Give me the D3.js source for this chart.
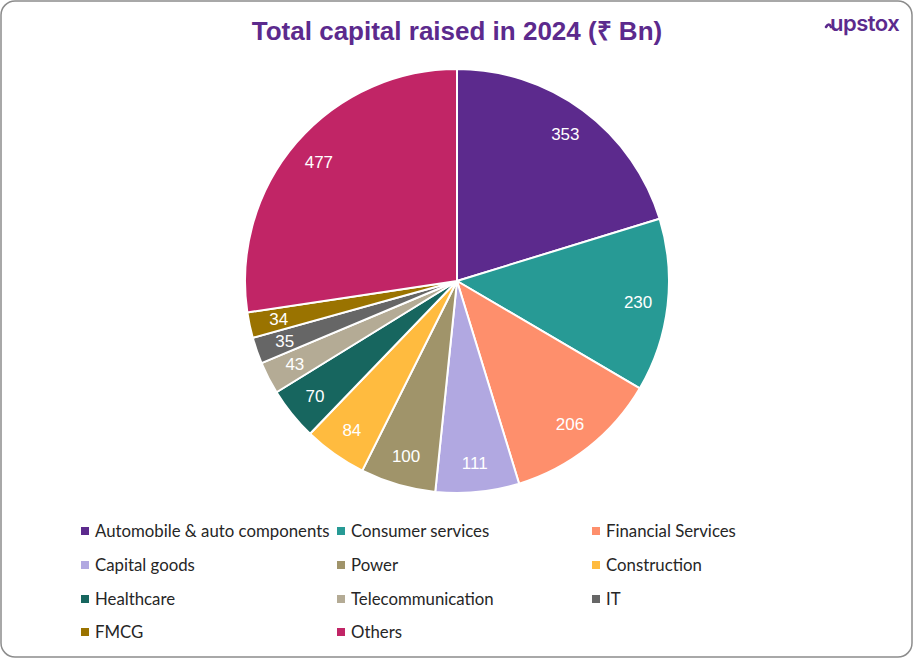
<!DOCTYPE html>
<html>
<head>
<meta charset="utf-8">
<script src="https://cdn.jsdelivr.net/npm/d3@7"></script>
<style>
  body { margin: 0; background: #fff; }
  svg { display: block; }
</style>
</head>
<body>
<svg id="chart" width="913" height="658"></svg>
<script>
// sectors in drawing order, clockwise from 12 o'clock
var sectors = ["Automobile & auto components", "Consumer services", "Financial Services",
  "Capital goods", "Power", "Construction", "Healthcare", "Telecommunication", "IT", "FMCG", "Others"];
var amounts = [353, 230, 206, 111, 100, 84, 70, 43, 35, 34, 477];
var colours = ["#5c2a8d", "#279a95", "#fe8f6c", "#b1a8e1", "#a0946a", "#ffbb3f",
  "#17665f", "#b4ab95", "#666666", "#9a7300", "#c12566"];

var data = sectors.map((s, i) => ({ sector: s, value: amounts[i] }));

var svg = d3.select("#chart"),
  width = +svg.attr("width"),
  height = +svg.attr("height");

svg.append("rect")
  .attr("x", 1).attr("y", 1)
  .attr("width", width - 2).attr("height", height - 2)
  .attr("rx", 14).attr("ry", 14)
  .attr("fill", "#fff")
  .attr("stroke", "#8c8c8c")
  .attr("stroke-width", 1.5);

svg.append("text")
  .attr("x", 457).attr("y", 40)
  .attr("text-anchor", "middle")
  .attr("fill", "#5c2a8d")
  .style("font-family", "Liberation Sans, Arial, sans-serif")
  .style("font-weight", "bold")
  .style("font-size", "26px")
  .text("Total capital raised in 2024 (₹ Bn)");

// logo
var logo = svg.append("g").attr("transform", "translate(826,31)");
logo.append("path")
  .attr("d", "M0,-4 Q3,-9 5,-4")
  .attr("fill", "none")
  .attr("stroke", "#5c2a8d")
  .attr("stroke-width", 2.6)
  .attr("stroke-linecap", "round");
logo.append("text")
  .attr("x", 4).attr("y", 0)
  .attr("fill", "#5c2a8d")
  .style("font-family", "Inter, Roboto, sans-serif")
  .style("font-weight", "600")
  .style("font-size", "22px")
  .style("letter-spacing", "-0.5px")
  .text("upstox");

var cx = 457, cy = 281, radius = 212;

var color = d3.scaleOrdinal().domain(sectors).range(colours);

var pie = d3.pie()
  .value(d => d.value)
  .sort(null);

var arc = d3.arc()
  .innerRadius(0)
  .outerRadius(radius);

var labelArc = d3.arc()
  .innerRadius(radius * 0.86)
  .outerRadius(radius * 0.86);

var g = svg.append("g").attr("transform", "translate(" + cx + "," + cy + ")");

var arcs = pie(data);

g.selectAll("path.slice")
  .data(arcs)
  .enter().append("path")
    .attr("class", "slice")
    .attr("d", arc)
    .attr("fill", d => color(d.data.sector))
    .attr("stroke", "#fff")
    .attr("stroke-width", 2)
    .attr("stroke-linejoin", "round");

g.selectAll("text.val")
  .data(arcs)
  .enter().append("text")
    .attr("class", "val")
    .attr("transform", d => "translate(" + labelArc.centroid(d) + ")")
    .attr("text-anchor", "middle")
    .attr("dy", "0.36em")
    .attr("fill", "#fff")
    .style("font-family", "Liberation Sans, Arial, sans-serif")
    .style("font-size", "17px")
    .text(d => d.data.value);

// legend, 3 columns
var colX = [81, 337, 592],
  rowY = [531, 565, 599, 632];

var legend = svg.selectAll("g.legend")
  .data(sectors)
  .enter().append("g")
    .attr("class", "legend")
    .attr("transform", (d, i) => "translate(" + colX[i % 3] + "," + rowY[Math.floor(i / 3)] + ")");

legend.append("rect")
  .attr("x", 0).attr("y", -4)
  .attr("width", 8).attr("height", 8)
  .attr("fill", d => color(d));

legend.append("text")
  .attr("x", 14).attr("y", 0)
  .attr("dy", "0.35em")
  .attr("fill", "#262626")
  .style("font-family", "Lato, Open Sans, sans-serif")
  .style("font-size", "16.8px")
  .text(d => d);
</script>
</body>
</html>
